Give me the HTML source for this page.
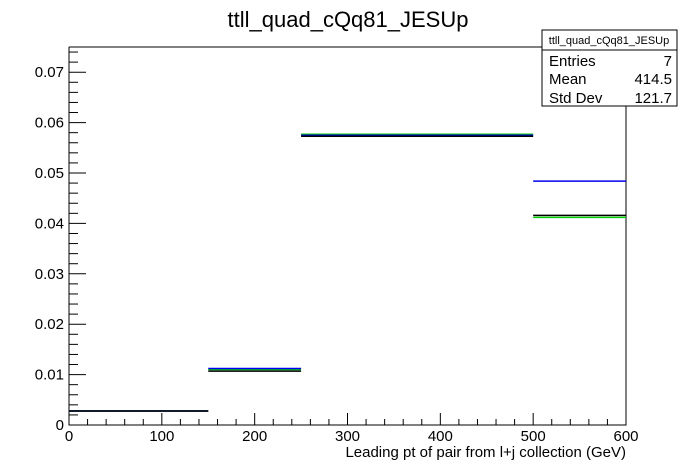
<!DOCTYPE html>
<html><head><meta charset="utf-8"><style>
body{margin:0;background:#fff}
svg{display:block;font-family:"Liberation Sans",sans-serif}
</style></head><body>
<svg id="c" width="696" height="472">
<rect width="696" height="472" fill="#fff"/>
<text x="348" y="27" font-size="22" text-anchor="middle">ttll_quad_cQq81_JESUp</text>
<g id="axes"></g>
<g id="series"></g>
<text x="626" y="457" font-size="15" text-anchor="end">Leading pt of pair from l+j collection (GeV)</text>
<g>
<rect x="542" y="30" width="135" height="76" fill="#fff" stroke="#000" stroke-width="1"/>
<line x1="542" y1="50" x2="677" y2="50" stroke="#000"/>
<text x="609" y="44" font-size="11" text-anchor="middle">ttll_quad_cQq81_JESUp</text>
<text x="549" y="66" font-size="15">Entries</text><text x="672" y="66" font-size="15" text-anchor="end">7</text>
<text x="549" y="84" font-size="15">Mean</text><text x="672" y="84" font-size="15" text-anchor="end">414.5</text>
<text x="549" y="103" font-size="15">Std Dev</text><text x="672" y="103" font-size="15" text-anchor="end">121.7</text>
</g>
</svg>
<script>
const binEdges=[0,150,250,500,600];
const blackVals=[0.00278,0.0107,0.0573,0.0416];
const blueVals=[0.00278,0.0112,0.0575,0.0484];
const greenVals=[0.00278,0.0110,0.0577,0.0412];
const xTicks=[0,100,200,300,400,500,600];
const yTicks=[0,0.01,0.02,0.03,0.04,0.05,0.06,0.07];
const X0=69,X1=626,Y0=425,Y1=47,XMAX=600,YMAX=0.075;
const sx=v=>X0+v*(X1-X0)/XMAX, sy=v=>Y0-v*(Y0-Y1)/YMAX;
const NS='http://www.w3.org/2000/svg';
function mk(t,a,p){const e=document.createElementNS(NS,t);for(const k in a)e.setAttribute(k,a[k]);p.appendChild(e);return e;}
const ax=document.getElementById('axes');
let f=mk('path',{d:`M${X0},${Y1}H542M626,106V${Y0}H${X0}V${Y1}`,fill:'none',stroke:'#000','stroke-width':1},ax);


for(let v=0;v<=600;v+=20){const major=v%100===0;const t=mk('line',{x1:sx(v),x2:sx(v),y1:Y0,y2:Y0-(major?12:6),stroke:'#000'},ax);

}
xTicks.forEach(v=>{const t=mk('text',{x:sx(v),y:441,'font-size':15,'text-anchor':'middle'},ax);t.textContent=v;

});
for(let i=0;i<=37;i++){const v=i*0.002;if(v>YMAX)break;const major=i%5===0;const t=mk('line',{x1:X0,x2:X0+(major?17:9),y1:sy(v),y2:sy(v),stroke:'#000'},ax);

}
yTicks.forEach(v=>{const t=mk('text',{x:64,y:sy(v)+5,'font-size':15,'text-anchor':'end'},ax);t.textContent=v===0?'0':v.toFixed(2);

});
const sg=document.getElementById('series');
[[greenVals,'#00cc00','green'],[blueVals,'#0000ee','blue'],[blackVals,'#000','black']].forEach(([vals,col,nm])=>{
vals.forEach((v,i)=>{const l=mk('line',{x1:sx(binEdges[i]),x2:sx(binEdges[i+1]),y1:sy(v),y2:sy(v),stroke:col,'stroke-width':1.5},sg);

});});
</script>
</body></html>
